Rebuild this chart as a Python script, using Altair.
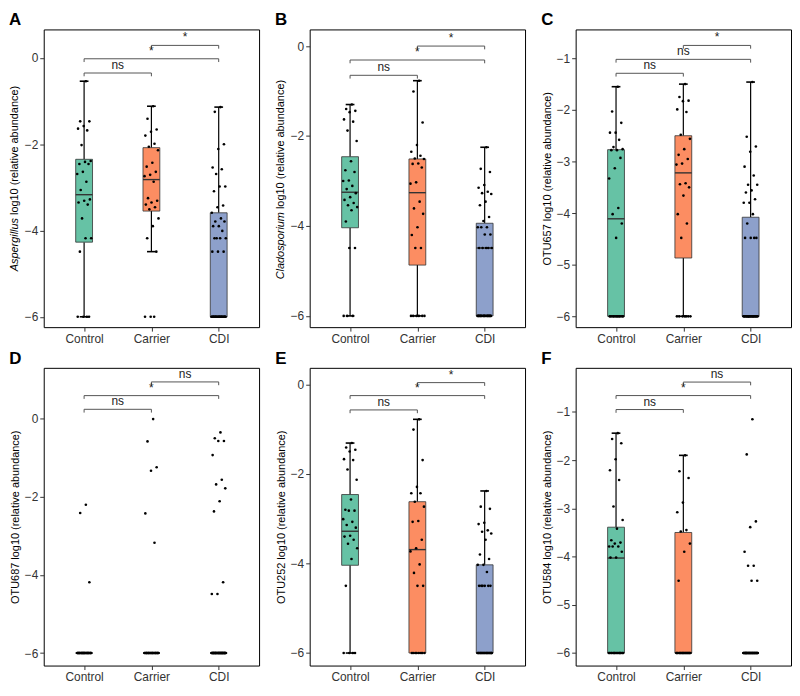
import altair as alt
import pandas as pd

groups = ["Control", "Carrier", "CDI"]
colors = ["#66C2A5", "#FC8D62", "#8DA0CB"]

# ---------------- Panel A : Aspergillus ----------------
A_control = [-0.54, -1.47, -1.47, -1.58, -1.64, -1.68, -2.02, -2.39, -2.41, -2.46, -2.46, -2.64, -2.69,
             -2.87, -3.06, -3.28, -3.31, -3.35, -3.40, -3.72, -4.18, -4.18, -4.49, -6, -6, -6, -6]
A_carrier = [-1.12, -1.41, -1.66, -1.71, -1.80, -1.99, -2.06, -2.14, -2.43, -2.52, -2.64, -2.71, -2.74,
             -2.87, -3.25, -3.31, -3.35, -3.40, -3.46, -3.51, -3.72, -3.90, -4.18, -4.49, -6, -6, -6]
A_cdi = [-1.14, -1.25, -2.00, -2.11, -2.54, -2.58, -2.69, -2.98, -2.98, -3.09, -3.42, -3.46, -3.59,
         -3.72, -3.79, -3.79, -3.90, -3.90, -4.01, -4.18, -4.18, -4.18, -4.18, -4.49, -4.49, -4.49] + [-6] * 26
A_box = {"lo": [-6, -4.49, -6], "q1": [-4.27, -3.55, -6], "med": [-3.17, -2.82, -6],
         "q3": [-2.35, -2.08, -3.59], "hi": [-0.54, -1.12, -1.14]}
A_br_y = [-0.35, -0.02, 0.29]
A_br_lab = ["ns", "*", "*"]

# ---------------- Panel B : Cladosporium ----------------
B_control = [-1.30, -1.40, -1.44, -1.47, -1.63, -1.68, -1.88, -2.11, -2.56, -2.76, -2.80, -2.99, -3.00,
             -3.11, -3.18, -3.27, -3.36, -3.42, -3.49, -3.54, -3.58, -3.65, -3.90, -4.49, -4.49, -6, -6, -6]
B_carrier = [-0.77, -1.01, -1.70, -2.20, -2.35, -2.44, -2.50, -2.51, -2.61, -2.62, -2.70, -3.03, -3.06,
             -3.46, -3.61, -3.73, -4.03, -4.20, -4.49, -4.49, -6, -6, -6, -6, -6, -6]
B_cdi = [-2.25, -2.73, -2.80, -3.09, -3.15, -3.24, -3.27, -3.29, -3.46, -3.54, -3.80, -3.89, -4.03, -4.03,
         -4.03, -4.19, -4.19, -4.49, -4.49, -4.49, -4.49, -4.49] + [-6] * 18
B_box = {"lo": [-6, -6, -6], "q1": [-4.04, -4.87, -6], "med": [-3.25, -3.26, -4.49],
         "q3": [-2.46, -2.51, -3.94], "hi": [-1.30, -0.77, -2.25]}
B_br_y = [-0.65, -0.31, 0.0]
B_br_lab = ["ns", "*", "*"]

# ---------------- Panel C : OTU657 ----------------
C_control = [-1.55, -2.03, -2.25, -2.44, -2.44, -2.58, -2.72, -2.76, -2.78, -2.78, -2.93, -3.13, -3.33,
             -3.90, -4.02, -4.20, -4.48] + [-6] * 13
C_carrier = [-1.50, -1.75, -1.82, -1.83, -1.99, -2.04, -2.48, -2.56, -2.76, -2.87, -2.95, -3.04, -3.06,
             -3.42, -3.44, -3.50, -3.66, -4.02, -4.20, -4.48] + [-6] * 7
C_cdi = [-1.46, -2.52, -2.71, -2.81, -3.10, -3.27, -3.45, -3.45, -3.56, -3.60, -3.73, -3.80, -3.80,
         -4.02, -4.20, -4.48, -4.48, -4.48, -4.48] + [-6] * 22
C_box = {"lo": [-6, -6, -6], "q1": [-6, -4.87, -6], "med": [-4.11, -3.22, -6],
         "q3": [-2.77, -2.50, -4.08], "hi": [-1.55, -1.50, -1.46]}
C_br_y = [-1.29, -1.02, -0.75]
C_br_lab = ["ns", "ns", "*"]

# ---------------- Panel D : OTU687 ----------------
D_control = [-2.21, -2.42, -4.19] + [-6] * 30
D_carrier = [-0.02, -0.59, -1.25, -1.34, -2.43, -3.18] + [-6] * 26
D_cdi = [-0.36, -0.51, -0.58, -0.58, -0.94, -1.57, -1.69, -1.79, -2.12, -2.38, -4.19, -4.49, -4.49] + [-6] * 40
D_box = {"lo": [-6, -6, -6], "q1": [-6, -6, -6], "med": [-6, -6, -6],
         "q3": [-6, -6, -6], "hi": [-6, -6, -6]}
D_br_y = [0.23, 0.58, 0.93]
D_br_lab = ["ns", "*", "ns"]

# ---------------- Panel E : OTU252 ----------------
E_control = [-1.31, -1.41, -1.46, -1.50, -1.67, -1.69, -1.90, -2.13, -2.57, -2.80, -2.82, -2.82, -3.01,
             -3.07, -3.14, -3.20, -3.38, -3.40, -3.47, -3.56, -3.66, -3.90, -4.50, -6, -6, -6, -6]
E_carrier = [-0.78, -1.01, -1.69, -2.29, -2.43, -2.43, -2.62, -2.73, -3.05, -3.07, -3.47, -3.66, -3.73,
             -4.02, -4.21, -4.50, -4.50] + [-6] * 8
E_cdi = [-2.38, -2.73, -2.78, -3.09, -3.12, -3.26, -3.29, -3.33, -3.47, -3.80, -3.90, -4.03, -4.03, -4.19,
         -4.50, -4.50, -4.50, -4.50, -4.50, -4.50] + [-6] * 22
E_box = {"lo": [-6, -6, -6], "q1": [-4.04, -6, -6], "med": [-3.28, -3.69, -6],
         "q3": [-2.46, -2.62, -4.03], "hi": [-1.31, -0.78, -2.38]}
E_br_y = [-0.57, -0.25, 0.04]
E_br_lab = ["ns", "*", "*"]

# ---------------- Panel F : OTU584 ----------------
F_control = [-1.44, -1.56, -1.65, -1.98, -2.21, -2.41, -2.96, -3.24, -3.42, -3.66, -3.71, -3.73, -3.79,
             -3.79, -3.79, -3.90, -4.02, -4.02] + [-6] * 16
F_carrier = [-1.90, -2.23, -2.37, -2.88, -3.08, -3.45, -3.48, -3.73, -3.90, -4.50] + [-6] * 20
F_cdi = [-1.15, -1.88, -3.27, -3.39, -3.90, -4.19, -4.19, -4.50, -4.50] + [-6] * 35
F_box = {"lo": [-6, -6, -6], "q1": [-6, -6, -6], "med": [-4.03, -6, -6],
         "q3": [-3.39, -3.50, -6], "hi": [-1.44, -1.90, -6]}
F_br_y = [-0.95, -0.66, -0.38]
F_br_lab = ["ns", "*", "ns"]

panels = [
    dict(letter="A", genus="Aspergillus", ytitle=None, pts=[A_control, A_carrier, A_cdi], box=A_box,
         br_y=A_br_y, br_lab=A_br_lab, domain=[-6.24, 0.66], ticks=[0, -2, -4, -6]),
    dict(letter="B", genus="Cladosporium", ytitle=None, pts=[B_control, B_carrier, B_cdi], box=B_box,
         br_y=B_br_y, br_lab=B_br_lab, domain=[-6.25, 0.37], ticks=[0, -2, -4, -6]),
    dict(letter="C", genus=None, ytitle="OTU657 log10 (relative abundance)", pts=[C_control, C_carrier, C_cdi],
         box=C_box, br_y=C_br_y, br_lab=C_br_lab, domain=[-6.21, -0.44], ticks=[-1, -2, -3, -4, -5, -6]),
    dict(letter="D", genus=None, ytitle="OTU687 log10 (relative abundance)", pts=[D_control, D_carrier, D_cdi],
         box=D_box, br_y=D_br_y, br_lab=D_br_lab, domain=[-6.32, 1.29], ticks=[0, -2, -4, -6]),
    dict(letter="E", genus=None, ytitle="OTU252 log10 (relative abundance)", pts=[E_control, E_carrier, E_cdi],
         box=E_box, br_y=E_br_y, br_lab=E_br_lab, domain=[-6.28, 0.37], ticks=[0, -2, -4, -6]),
    dict(letter="F", genus=None, ytitle="OTU584 log10 (relative abundance)", pts=[F_control, F_carrier, F_cdi],
         box=F_box, br_y=F_br_y, br_lab=F_br_lab, domain=[-6.26, -0.085], ticks=[-1, -2, -3, -4, -5, -6]),
]

FONT = "Liberation Sans"
W, H = 217, 300


def make_panel(p):
    lo, hi = p["domain"]
    tip = (hi - lo) * 0.011
    ysc = alt.Scale(domain=[lo, hi], nice=False, zero=False)
    xsc = alt.Scale(domain=[0.4, 3.6], nice=False, zero=False)
    xaxis = alt.Axis(values=[1, 2, 3], title=None, grid=False,
                     labelExpr="datum.value == 1 ? 'Control' : datum.value == 2 ? 'Carrier' : 'CDI'")
    if p["ytitle"] is None:
        yaxis = alt.Axis(values=p["ticks"], title=None, grid=False)
    else:
        yaxis = alt.Axis(values=p["ticks"], title=p["ytitle"], grid=False)

    def X(f):
        return alt.X(f, type="quantitative", scale=xsc, axis=xaxis)

    def Y(f):
        return alt.Y(f, type="quantitative", scale=ysc, axis=yaxis)

    pts = pd.DataFrame([{"grp": g, "pos": i + 1, "v": v}
                        for i, (g, vals) in enumerate(zip(groups, p["pts"])) for v in vals])
    box = pd.DataFrame({"grp": groups, "pos": [1, 2, 3], **p["box"]})
    br = pd.DataFrame({"x1": [1, 1, 2], "x2": [2, 3, 3], "y": p["br_y"], "lab": p["br_lab"]})

    bbase = alt.Chart(box).transform_calculate(
        xl="datum.pos - 0.125", xr="datum.pos + 0.125",
        cl="datum.pos - 0.065", cr="datum.pos + 0.065")
    color = alt.Color("grp:N", scale=alt.Scale(domain=groups, range=colors), legend=None)

    whisk_lo = bbase.mark_rule(color="black", strokeWidth=1.2).encode(x=X("pos"), y=Y("lo"), y2="q1")
    whisk_hi = bbase.mark_rule(color="black", strokeWidth=1.2).encode(x=X("pos"), y=Y("q3"), y2="hi")
    cap_hi = bbase.mark_rule(color="black", strokeWidth=1.6).encode(x=X("cl"), x2="cr", y=Y("hi"))
    cap_lo = bbase.mark_rule(color="black", strokeWidth=1.6).encode(x=X("cl"), x2="cr", y=Y("lo"))
    rect = bbase.mark_rect(stroke="#333333", strokeWidth=0.8).encode(
        x=X("xl"), x2="xr", y=Y("q1"), y2="q3", fill=color)
    med = bbase.mark_rule(color="#333333", strokeWidth=1.4).encode(x=X("xl"), x2="xr", y=Y("med"))

    points = alt.Chart(pts).transform_window(
        rn="row_number()", groupby=["grp"]
    ).transform_calculate(
        xj="datum.pos + ((datum.rn * 0.6180339887) % 1 - 0.5) * 0.22"
    ).mark_circle(color="black", size=7, opacity=1).encode(x=X("xj"), y=Y("v"))

    bb = alt.Chart(br).transform_calculate(ytip=f"datum.y - {tip}", xm="(datum.x1 + datum.x2) / 2")
    br_h = bb.mark_rule(color="#555555", strokeWidth=1).encode(x=X("x1"), x2="x2", y=Y("y"))
    br_l = bb.mark_rule(color="#555555", strokeWidth=1).encode(x=X("x1"), y=Y("y"), y2="ytip")
    br_r = bb.mark_rule(color="#555555", strokeWidth=1).encode(x=X("x2"), y=Y("y"), y2="ytip")
    br_t = bb.mark_text(baseline="bottom", dy=-1, font=FONT, fontSize=12, fill="#222222").encode(
        x=X("xm"), y=Y("y"), text="lab:N")

    layers = [whisk_lo, whisk_hi, cap_hi, cap_lo, rect, med, points, br_h, br_l, br_r, br_t]

    if p["genus"] is not None:
        shift = {"Aspergillus": 40, "Cladosporium": 34}[p["genus"]]
        t1 = alt.Chart(pd.DataFrame({"t": [p["genus"]]})).mark_text(
            angle=270, align="right", baseline="middle", font=FONT, fontSize=11,
            fontStyle="italic", color="black").encode(
            x=alt.value(-29), y=alt.value(H / 2 + shift), text="t:N")
        t2 = alt.Chart(pd.DataFrame({"t": ["log10 (relative abundance)"]})).mark_text(
            angle=270, align="left", baseline="middle", font=FONT, fontSize=11,
            color="black").encode(
            x=alt.value(-29), y=alt.value(H / 2 + shift - 3), text="t:N")
        layers += [t1, t2]

    return alt.layer(*layers).properties(
        width=W, height=H,
        title=alt.TitleParams(p["letter"], anchor="start", frame="bounds", fontSize=17,
                              fontWeight="bold", font=FONT, offset=0, color="black"))


rows = []
for r in range(2):
    rows.append(alt.hconcat(*[make_panel(panels[r * 3 + c]) for c in range(3)], spacing=14))

chart = alt.vconcat(*rows, spacing=4).properties(padding=0).configure_view(
    stroke="black", strokeWidth=1
).configure_axis(
    labelFont=FONT, labelFontSize=12, labelColor="#333333", tickColor="#333333",
    tickSize=4, domain=False, grid=False, titleFont=FONT, titleFontSize=11,
    titleFontWeight="normal", titleColor="black", labelPadding=2, titlePadding=4
)

chart.save("out.html", embed_options={"renderer": "svg", "actions": False})
